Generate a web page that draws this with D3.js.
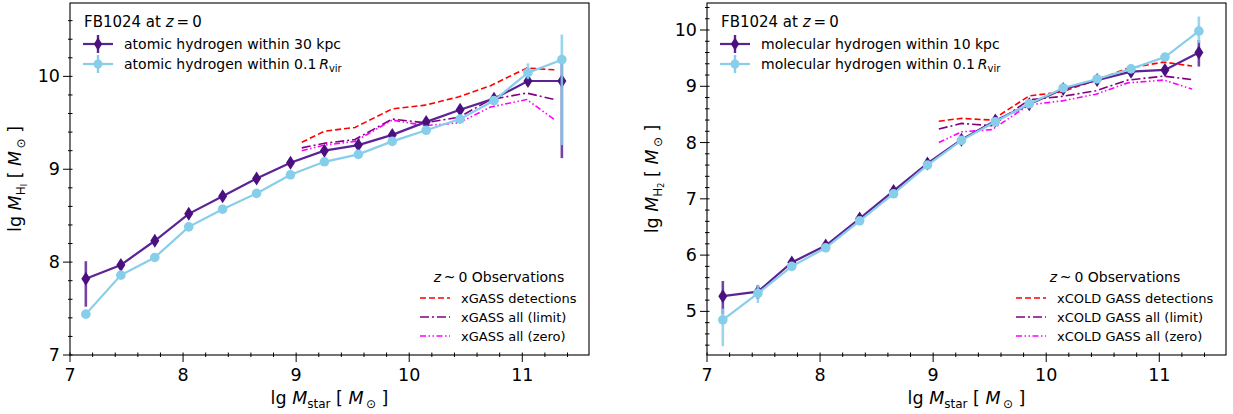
<!DOCTYPE html>
<html><head><meta charset="utf-8">
<script src="https://cdn.jsdelivr.net/npm/d3@7"></script>
<style>body{margin:0;background:#fff;} svg{display:block;font-family:"DejaVu Sans",sans-serif;}</style>
</head><body>
<svg id="chart" width="1233" height="414"></svg>
<script>
// ---- data ----
const simX = [7.14, 7.45, 7.75, 8.05, 8.35, 8.65, 8.95, 9.25, 9.55, 9.85, 10.15, 10.45, 10.75, 11.05, 11.35];
const obsX = [9.05, 9.25, 9.52, 9.85, 10.14, 10.44, 10.72, 11.04, 11.29];

// Left panel: atomic hydrogen
const hiInner = [7.82, 7.97, 8.23, 8.52, 8.71, 8.90, 9.07, 9.20, 9.26, 9.37, 9.51, 9.64, 9.76, 9.95, 9.95];
const hiInnerLo = [7.52, 7.93, 8.19, 8.48, 8.67, 8.86, 9.03, 9.16, 9.22, 9.33, 9.47, 9.60, 9.72, 9.90, 9.12];
const hiInnerHi = [8.01, 8.01, 8.27, 8.56, 8.75, 8.94, 9.11, 9.24, 9.30, 9.41, 9.55, 9.68, 9.80, 10.00, 10.15];
const hiVir = [7.44, 7.86, 8.05, 8.38, 8.57, 8.74, 8.94, 9.08, 9.16, 9.30, 9.42, 9.54, 9.74, 10.04, 10.18];
const hiVirLo = [7.40, 7.83, 8.02, 8.35, 8.54, 8.71, 8.91, 9.05, 9.13, 9.27, 9.39, 9.51, 9.70, 9.97, 9.26];
const hiVirHi = [7.48, 7.89, 8.08, 8.41, 8.60, 8.77, 8.97, 9.11, 9.19, 9.33, 9.45, 9.57, 9.78, 10.14, 10.45];
const hiObsDet = [9.29, 9.41, 9.45, 9.65, 9.69, 9.78, 9.90, 10.09, 10.07];
const hiObsLim = [9.23, 9.28, 9.32, 9.54, 9.50, 9.56, 9.75, 9.82, 9.75];
const hiObsZero = [9.20, 9.26, 9.30, 9.53, 9.47, 9.50, 9.67, 9.75, 9.53];

// Right panel: molecular hydrogen
const h2Inner = [5.27, 5.35, 5.87, 6.17, 6.65, 7.14, 7.63, 8.05, 8.39, 8.68, 8.95, 9.11, 9.26, 9.29, 9.60];
const h2InnerLo = [4.95, 5.22, 5.82, 6.12, 6.60, 7.09, 7.58, 8.01, 8.35, 8.64, 8.91, 9.07, 9.22, 9.24, 9.35];
const h2InnerHi = [5.54, 5.47, 5.92, 6.22, 6.70, 7.19, 7.68, 8.09, 8.43, 8.72, 8.99, 9.15, 9.30, 9.34, 9.82];
const h2Vir = [4.85, 5.32, 5.80, 6.13, 6.61, 7.09, 7.60, 8.04, 8.37, 8.69, 8.97, 9.13, 9.31, 9.52, 9.98];
const h2VirLo = [4.38, 5.15, 5.75, 6.08, 6.56, 7.04, 7.55, 8.00, 8.33, 8.65, 8.93, 9.09, 9.27, 9.47, 9.77];
const h2VirHi = [5.05, 5.47, 5.85, 6.18, 6.66, 7.14, 7.65, 8.08, 8.41, 8.73, 9.01, 9.17, 9.35, 9.57, 10.24];
const h2ObsDet = [8.38, 8.43, 8.40, 8.83, 8.90, 9.11, 9.32, 9.43, 9.36];
const h2ObsLim = [8.24, 8.34, 8.30, 8.76, 8.82, 8.92, 9.11, 9.18, 9.12];
const h2ObsZero = [8.00, 8.19, 8.23, 8.67, 8.74, 8.86, 9.06, 9.11, 8.95];

const xTicks = [7, 8, 9, 10, 11];
const yTicksLeft = [7, 8, 9, 10];
const yTicksRight = [5, 6, 7, 8, 9, 10];

const leftLabels = {
  inner: "atomic hydrogen within 30 kpc",
  obs: ["xGASS detections", "xGASS all (limit)", "xGASS all (zero)"],
  sub: "H", subsub: "I"
};
const rightLabels = {
  inner: "molecular hydrogen within 10 kpc",
  obs: ["xCOLD GASS detections", "xCOLD GASS all (limit)", "xCOLD GASS all (zero)"],
  sub: "H", subsub: "2"
};

// ---- styles ----
const C_DARK = "#5b2396", C_DARK_M = "#4a1080", C_LIGHT = "#87ceeb";
const C_RED = "#ff0000", C_PURP = "#800080", C_MAG = "#ff00ff";
const DASH_DET = "6,3", DASH_LIM = "9,3,2,3", DASH_ZERO = "6,2.5,1.5,2.5,1.5,2.5";

const svg = d3.select("#chart");

function diamondPath(cx, cy, w, h) {
  return `M${cx},${cy-h}L${cx+w},${cy}L${cx},${cy+h}L${cx-w},${cy}Z`;
}

function drawPanel(p) {
  const g = svg.append("g");
  const x = d3.scaleLinear().domain([7, 11.59]).range([p.left, p.right]);
  const y = d3.scaleLinear().domain(p.yDomain).range([p.bottom, p.top]);

  // ticks
  const tickG = g.append("g").attr("stroke", "#000").attr("stroke-width", 1);
  const xMinor = d3.range(7, 11.6, 0.2).filter(v => Math.abs(v - Math.round(v)) > 1e-6);
  const yMinor = d3.range(Math.ceil(p.yDomain[0] * 5) / 5, p.yDomain[1], 0.2).filter(v => Math.abs(v - Math.round(v)) > 1e-6);
  xMinor.forEach(v => tickG.append("line").attr("x1", x(v)).attr("x2", x(v)).attr("y1", p.bottom - 2.5).attr("y2", p.bottom + 2));
  xTicks.forEach(v => tickG.append("line").attr("x1", x(v)).attr("x2", x(v)).attr("y1", p.bottom - 2.5).attr("y2", p.bottom + 7));
  yMinor.forEach(v => tickG.append("line").attr("y1", y(v)).attr("y2", y(v)).attr("x1", p.left - 2).attr("x2", p.left + 2.5));
  p.yTicks.forEach(v => tickG.append("line").attr("y1", y(v)).attr("y2", y(v)).attr("x1", p.left - 7).attr("x2", p.left + 2.5));

  g.selectAll(".xt").data(xTicks).join("text")
    .attr("x", d => x(d)).attr("y", p.bottom + 26).attr("text-anchor", "middle")
    .attr("font-size", 17.5).text(d => d);
  g.selectAll(".yt").data(p.yTicks).join("text")
    .attr("x", p.left - 10).attr("y", d => y(d) + 6).attr("text-anchor", "end")
    .attr("font-size", 17.5).text(d => d);

  // axis labels
  const xl = g.append("text").attr("x", (p.left + p.right) / 2).attr("y", 404)
    .attr("text-anchor", "middle").attr("font-size", 17.5);
  xl.append("tspan").text("lg ");
  xl.append("tspan").attr("font-style", "italic").text("M");
  xl.append("tspan").attr("font-size", 12).attr("dy", 4).text("star");
  xl.append("tspan").attr("dy", -4).text(" [ ");
  xl.append("tspan").attr("font-style", "italic").text("M");
  xl.append("tspan").attr("font-size", 12).attr("dy", 4).text("\u2009\u2299");
  xl.append("tspan").attr("dy", -4).text("  ]");

  const ycx = p.left - 49, ycy = (p.top + p.bottom) / 2;
  const yl = g.append("text").attr("transform", `translate(${ycx},${ycy}) rotate(-90)`)
    .attr("text-anchor", "middle").attr("font-size", 17.5);
  yl.append("tspan").text("lg ");
  yl.append("tspan").attr("font-style", "italic").text("M");
  yl.append("tspan").attr("font-size", 12).attr("dy", 4).text(p.labels.sub);
  yl.append("tspan").attr("font-size", 8).attr("dy", 2).text(p.labels.subsub);
  yl.append("tspan").attr("dy", -6).text(" [ ");
  yl.append("tspan").attr("font-style", "italic").text("M");
  yl.append("tspan").attr("font-size", 12).attr("dy", 4).text("\u2009\u2299");
  yl.append("tspan").attr("dy", -4).text("  ]");

  // clip
  const clipId = "clip" + p.id;
  svg.append("clipPath").attr("id", clipId).append("rect")
    .attr("x", p.left).attr("y", p.top).attr("width", p.right - p.left).attr("height", p.bottom - p.top);
  const plot = g.append("g").attr("clip-path", `url(#${clipId})`);

  const line = d3.line().x(d => x(d[0])).y(d => y(d[1]));

  // observations
  const obs = [[p.obsDet, C_RED, DASH_DET], [p.obsLim, C_PURP, DASH_LIM], [p.obsZero, C_MAG, DASH_ZERO]];
  obs.forEach(([vals, col, dash]) => {
    plot.append("path").attr("d", line(obsX.map((xx, i) => [xx, vals[i]])))
      .attr("fill", "none").attr("stroke", col).attr("stroke-width", 1.6).attr("stroke-dasharray", dash);
  });

  // simulation series
  const series = [
    {vals: p.inner, lo: p.innerLo, hi: p.innerHi, col: C_DARK, mcol: C_DARK_M, marker: "d"},
    {vals: p.vir, lo: p.virLo, hi: p.virHi, col: C_LIGHT, mcol: C_LIGHT, marker: "o"}
  ];
  series.forEach(s => {
    plot.append("path").attr("d", line(simX.map((xx, i) => [xx, s.vals[i]])))
      .attr("fill", "none").attr("stroke", s.col).attr("stroke-width", 2.2);
    plot.selectAll(null).data(simX).join("line")
      .attr("x1", d => x(d)).attr("x2", d => x(d))
      .attr("y1", (d, i) => y(s.lo[i])).attr("y2", (d, i) => y(s.hi[i]))
      .attr("stroke", s.col).attr("stroke-width", 2.6).attr("stroke-opacity", 0.85);
    if (s.marker === "d") {
      plot.selectAll(null).data(simX).join("path")
        .attr("d", (d, i) => diamondPath(x(d), y(s.vals[i]), 4.5, 7)).attr("fill", s.mcol);
    } else {
      plot.selectAll(null).data(simX).join("circle")
        .attr("cx", d => x(d)).attr("cy", (d, i) => y(s.vals[i])).attr("r", 4.8).attr("fill", s.mcol);
    }
  });

  // frame
  g.append("rect").attr("x", p.left).attr("y", p.top).attr("width", p.right - p.left).attr("height", p.bottom - p.top)
    .attr("fill", "none").attr("stroke", "#000").attr("stroke-width", 1.1);

  // top legend
  const lx = p.left + 13;
  const t = g.append("text").attr("x", lx + 1).attr("y", 27).attr("font-size", 15);
  t.append("tspan").text("FB1024 at ");
  t.append("tspan").attr("font-style", "italic").text("z");
  t.append("tspan").text("\u2009=\u20090");
  const legRows = [
    {txt: p.labels.inner, col: C_DARK, mcol: C_DARK_M, marker: "d", y: 44},
    {txt: null, col: C_LIGHT, mcol: C_LIGHT, marker: "o", y: 64}
  ];
  legRows.forEach(r => {
    g.append("line").attr("x1", lx).attr("x2", lx + 30).attr("y1", r.y).attr("y2", r.y)
      .attr("stroke", r.col).attr("stroke-width", 2.2);
    g.append("line").attr("x1", lx + 15).attr("x2", lx + 15).attr("y1", r.y - 9).attr("y2", r.y + 9)
      .attr("stroke", r.col).attr("stroke-width", 2.4);
    if (r.marker === "d") g.append("path").attr("d", diamondPath(lx + 15, r.y, 4.2, 6.5)).attr("fill", r.mcol);
    else g.append("circle").attr("cx", lx + 15).attr("cy", r.y).attr("r", 4.5).attr("fill", r.mcol);
    const tt = g.append("text").attr("x", lx + 41).attr("y", r.y + 5).attr("font-size", 14);
    if (r.txt) tt.text(r.txt);
    else {
      tt.append("tspan").text(p.labels.inner.split(" within")[0] + " within 0.1\u2009");
      tt.append("tspan").attr("font-style", "italic").text("R");
      tt.append("tspan").attr("font-size", 10).attr("dy", 3).text("vir");
    }
  });

  // observations legend
  const ox = p.obsLegX;
  const ot = g.append("text").attr("x", p.obsTitleX).attr("y", 282).attr("font-size", 14).attr("text-anchor", "middle");
  ot.append("tspan").attr("font-style", "italic").text("z");
  ot.append("tspan").text("\u2009~\u20090 Observations");
  obs.forEach(([vals, col, dash], i) => {
    const yy = 298 + i * 19;
    g.append("line").attr("x1", ox).attr("x2", ox + 30).attr("y1", yy).attr("y2", yy)
      .attr("stroke", col).attr("stroke-width", 1.6).attr("stroke-dasharray", dash);
    g.append("text").attr("x", ox + 41).attr("y", yy + 4.5).attr("font-size", 13).text(p.labels.obs[i]);
  });
}

drawPanel({
  id: "L", left: 70, right: 589, top: 3, bottom: 355, yDomain: [7, 10.79], yTicks: yTicksLeft,
  inner: hiInner, innerLo: hiInnerLo, innerHi: hiInnerHi, vir: hiVir, virLo: hiVirLo, virHi: hiVirHi,
  obsDet: hiObsDet, obsLim: hiObsLim, obsZero: hiObsZero, labels: leftLabels,
  obsLegX: 420, obsTitleX: 499
});
drawPanel({
  id: "R", left: 707, right: 1226, top: 3, bottom: 355, yDomain: [4.225, 10.48], yTicks: yTicksRight,
  inner: h2Inner, innerLo: h2InnerLo, innerHi: h2InnerHi, vir: h2Vir, virLo: h2VirLo, virHi: h2VirHi,
  obsDet: h2ObsDet, obsLim: h2ObsLim, obsZero: h2ObsZero, labels: rightLabels,
  obsLegX: 1016, obsTitleX: 1115
});
</script>
</body></html>
